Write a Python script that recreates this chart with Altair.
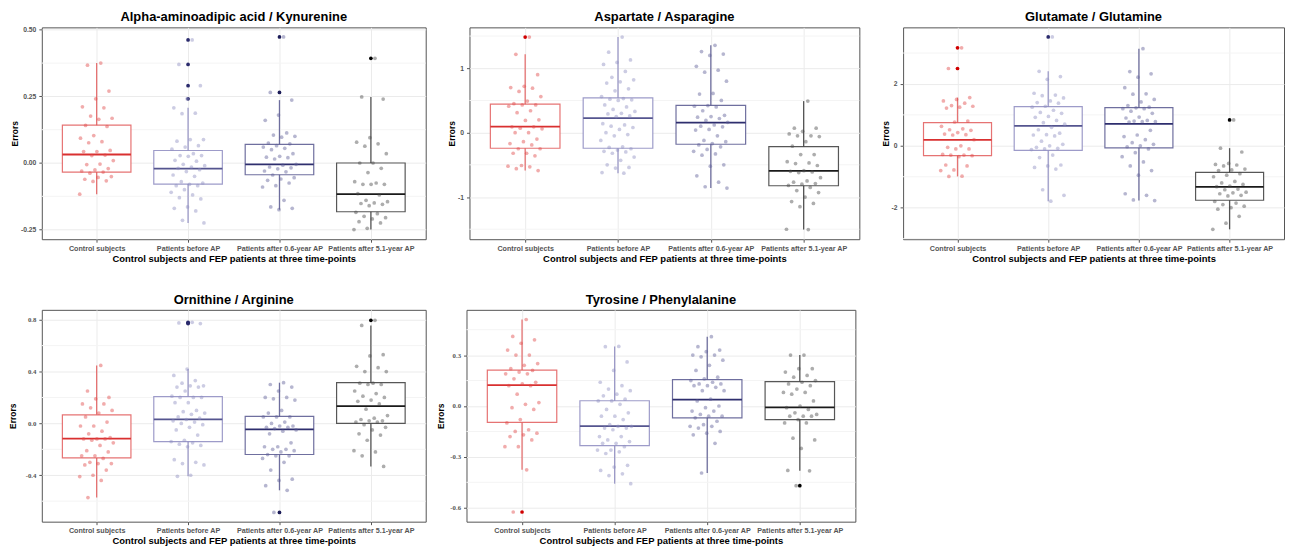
import json
import altair as alt
import pandas as pd

GROUPS = ["Control subjects", "Patients before AP", "Patients after 0.6-year AP", "Patients after 5.1-year AP"]
BOX_COLORS = ["#E25A5A", "#8C8ABF", "#56568E", "#3A3A3A"]
MEDIAN_COLORS = ["#D93030", "#55558F", "#2E2E6E", "#1A1A1A"]
POINT_COLORS = ["#E04848", "#8F8DC2", "#5E5E96", "#4A4A4A"]
OUTLIER_COLORS = ["#D00000", "#2A2A6C", "#1C1C58", "#000000"]
X_TITLE = "Control subjects and FEP patients at three time-points"
Y_TITLE = "Errors"

# ---- Panel 1: Alpha-aminoadipic acid / Kynurenine
P1_TITLE = "Alpha-aminoadipic acid / Kynurenine"
P1_CTRL = [0.375, 0.367, 0.27, 0.241, 0.211, 0.207, 0.176, 0.168, 0.164, 0.141, 0.137, 0.103, 0.093, 0.08, 0.076, 0.047, 0.043, 0.043, 0.03, 0.028, 0.009, -0.004, -0.006, -0.021, -0.026, -0.03, -0.034, -0.038, -0.051, -0.054, -0.061, -0.067, -0.069, -0.117]
P1_PRE = [0.462, 0.37, 0.29, 0.241, 0.207, 0.187, 0.185, 0.088, 0.088, 0.082, 0.065, 0.06, 0.052, 0.035, 0.028, 0.028, 0.025, 0.01, 0.007, -0.005, -0.01, -0.015, -0.02, -0.025, -0.032, -0.045, -0.05, -0.07, -0.075, -0.08, -0.085, -0.085, -0.1, -0.11, -0.12, -0.13, -0.135, -0.165, -0.17, -0.18, -0.215, -0.225]
P1_A06 = [0.473, 0.265, 0.236, 0.18, 0.16, 0.113, 0.105, 0.1, 0.097, 0.075, 0.072, 0.065, 0.06, 0.055, 0.05, 0.035, 0.025, 0.022, 0.02, 0.015, -0.005, -0.008, -0.015, -0.018, -0.022, -0.03, -0.033, -0.045, -0.055, -0.06, -0.065, -0.075, -0.085, -0.09, -0.14, -0.165, -0.17, -0.175]
P1_A51 = [0.393, 0.248, 0.24, 0.095, 0.078, 0.072, 0.063, 0.035, 0.0, 0.0, -0.02, -0.036, -0.07, -0.075, -0.08, -0.08, -0.08, -0.115, -0.12, -0.14, -0.145, -0.15, -0.152, -0.155, -0.16, -0.185, -0.19, -0.2, -0.205, -0.21, -0.22, -0.225, -0.245, -0.25]
P1_Q1 = [-0.034, -0.079, -0.044, -0.183]
P1_MED = [0.032, -0.021, -0.005, -0.117]
P1_Q3 = [0.142, 0.047, 0.070, 0.0]
P1_LO = [-0.117, -0.225, -0.175, -0.25]
P1_HI = [0.375, 0.207, 0.236, 0.248]
P1_DOMAIN = [-0.286, 0.509]
P1_TICKS = [-0.25, 0.0, 0.25, 0.5]

# ---- Panel 2: Aspartate / Asparagine
P2_TITLE = "Aspartate / Asparagine"
P2_CTRL = [1.485, 1.216, 0.9, 0.72, 0.7, 0.69, 0.64, 0.56, 0.49, 0.45, 0.43, 0.43, 0.41, 0.34, 0.31, 0.2, 0.19, 0.09, 0.09, 0.07, 0.06, 0.0, 0.0, -0.1, -0.14, -0.17, -0.19, -0.25, -0.25, -0.32, -0.32, -0.36, -0.51, -0.52, -0.53, -0.56, -0.588]
P2_PRE = [1.485, 1.25, 1.13, 1.09, 1.06, 0.95, 0.86, 0.82, 0.79, 0.77, 0.68, 0.65, 0.56, 0.53, 0.52, 0.51, 0.5, 0.43, 0.4, 0.36, 0.33, 0.3, 0.29, 0.26, 0.25, 0.14, 0.12, 0.1, 0.08, 0.05, 0.0, -0.03, -0.05, -0.12, -0.22, -0.23, -0.25, -0.27, -0.29, -0.3, -0.32, -0.38, -0.43, -0.5, -0.54, -0.55, -0.62, -0.629]
P2_A06 = [1.356, 1.26, 1.22, 1.2, 1.03, 0.97, 0.94, 0.8, 0.61, 0.6, 0.5, 0.42, 0.41, 0.4, 0.34, 0.27, 0.25, 0.24, 0.22, 0.19, 0.16, 0.12, 0.1, 0.09, 0.05, 0.04, -0.05, -0.12, -0.14, -0.17, -0.19, -0.22, -0.26, -0.29, -0.33, -0.35, -0.5, -0.52, -0.67, -0.77, -0.84, -0.861]
P2_A51 = [0.49, 0.07, 0.07, 0.02, -0.02, -0.05, -0.05, -0.06, -0.14, -0.21, -0.34, -0.34, -0.45, -0.47, -0.48, -0.51, -0.59, -0.6, -0.61, -0.62, -0.7, -0.75, -0.77, -0.79, -0.8, -0.82, -0.85, -0.9, -0.93, -1.0, -1.07, -1.1, -1.15, -1.5, -1.505]
P2_Q1 = [-0.242, -0.242, -0.18, -0.825]
P2_MED = [0.093, 0.227, 0.155, -0.593]
P2_Q3 = [0.443, 0.541, 0.423, -0.216]
P2_LO = [-0.588, -0.629, -0.861, -1.505]
P2_HI = [1.216, 1.485, 1.356, 0.49]
P2_DOMAIN = [-1.655, 1.635]
P2_TICKS = [-1, 0, 1]

# ---- Panel 3: Glutamate / Glutamine
P3_TITLE = "Glutamate / Glutamine"
P3_CTRL = [3.17, 2.5, 1.56, 1.5, 1.45, 1.38, 1.3, 1.28, 1.25, 1.22, 0.8, 0.77, 0.63, 0.55, 0.52, 0.5, 0.43, 0.38, 0.36, 0.35, 0.2, 0.0, -0.05, -0.1, -0.1, -0.28, -0.3, -0.3, -0.32, -0.35, -0.62, -0.65, -0.78, -0.8, -0.98, -0.99]
P3_PRE = [3.52, 2.41, 2.24, 2.15, 1.7, 1.64, 1.62, 1.55, 1.45, 1.4, 1.38, 1.28, 1.25, 1.15, 1.08, 1.05, 0.95, 0.92, 0.82, 0.75, 0.7, 0.6, 0.52, 0.41, 0.36, 0.35, 0.32, 0.15, 0.05, 0.0, -0.05, -0.08, -0.1, -0.12, -0.3, -0.38, -0.62, -0.65, -0.7, -0.75, -1.42, -1.6, -1.79]
P3_A06 = [3.14, 2.4, 2.33, 2.22, 1.88, 1.68, 1.67, 1.5, 1.42, 1.3, 1.25, 1.23, 1.2, 1.2, 1.12, 1.05, 0.93, 0.9, 0.82, 0.8, 0.78, 0.78, 0.77, 0.5, 0.35, 0.3, 0.2, 0.1, 0.05, 0.0, -0.03, -0.1, -0.22, -0.35, -0.52, -0.65, -0.8, -0.95, -1.55, -1.6, -1.75, -1.77]
P3_A51 = [0.836, -0.075, -0.2, -0.57, -0.6, -0.62, -0.65, -0.75, -0.78, -0.8, -0.9, -0.95, -1.0, -1.15, -1.2, -1.25, -1.3, -1.32, -1.4, -1.42, -1.5, -1.52, -1.55, -1.6, -1.62, -1.8, -1.85, -1.9, -1.95, -2.0, -2.05, -2.28, -2.5, -2.7]
P3_Q1 = [-0.32, -0.15, -0.064, -1.76]
P3_MED = [0.193, 0.643, 0.708, -1.33]
P3_Q3 = [0.75, 1.265, 1.233, -0.858]
P3_LO = [-0.99, -1.79, -1.77, -2.7]
P3_HI = [1.56, 2.41, 3.14, -0.075]
P3_DOMAIN = [-3.02, 3.83]
P3_TICKS = [-2, 0, 2]

# ---- Panel 4: Ornithine / Arginine
P4_TITLE = "Ornithine / Arginine"
P4_CTRL = [0.447, 0.25, 0.2, 0.19, 0.15, 0.15, 0.12, 0.1, 0.08, 0.05, 0.01, -0.02, -0.02, -0.06, -0.08, -0.11, -0.12, -0.12, -0.12, -0.13, -0.15, -0.17, -0.21, -0.22, -0.25, -0.25, -0.27, -0.3, -0.31, -0.31, -0.32, -0.36, -0.4, -0.41, -0.44, -0.572]
P4_PRE = [0.78, 0.775, 0.77, 0.419, 0.37, 0.33, 0.31, 0.29, 0.29, 0.28, 0.28, 0.25, 0.21, 0.2, 0.2, 0.2, 0.16, 0.16, 0.1, 0.09, 0.08, 0.07, 0.05, 0.04, 0.03, 0.02, 0.01, 0.0, -0.01, -0.03, -0.05, -0.09, -0.13, -0.14, -0.15, -0.16, -0.17, -0.18, -0.28, -0.3, -0.31, -0.32, -0.4, -0.408]
P4_A06 = [0.314, 0.3, 0.28, 0.25, 0.2, 0.2, 0.19, 0.18, 0.1, 0.08, 0.05, 0.05, 0.05, 0.01, 0.0, -0.02, -0.02, -0.03, -0.03, -0.04, -0.05, -0.06, -0.08, -0.15, -0.18, -0.18, -0.2, -0.2, -0.21, -0.22, -0.24, -0.25, -0.25, -0.27, -0.3, -0.36, -0.43, -0.44, -0.48, -0.516, -0.687]
P4_A51 = [0.795, 0.756, 0.53, 0.52, 0.44, 0.43, 0.4, 0.4, 0.31, 0.31, 0.3, 0.3, 0.25, 0.23, 0.21, 0.2, 0.18, 0.17, 0.15, 0.11, 0.06, 0.04, 0.03, 0.02, 0.02, 0.01, 0.01, -0.01, -0.03, -0.05, -0.08, -0.09, -0.13, -0.21, -0.22, -0.25, -0.332]
P4_Q1 = [-0.266, -0.14, -0.24, 0.0]
P4_MED = [-0.117, 0.031, -0.046, 0.133]
P4_Q3 = [0.066, 0.207, 0.054, 0.314]
P4_LO = [-0.572, -0.408, -0.516, -0.332]
P4_HI = [0.447, 0.419, 0.314, 0.756]
P4_DOMAIN = [-0.758, 0.876]
P4_TICKS = [-0.4, 0.0, 0.4, 0.8]

# ---- Panel 5: Tyrosine / Phenylalanine
P5_TITLE = "Tyrosine / Phenylalanine"
P5_CTRL = [0.51, 0.41, 0.39, 0.37, 0.33, 0.3, 0.3, 0.25, 0.24, 0.22, 0.21, 0.2, 0.19, 0.19, 0.16, 0.14, 0.13, 0.12, 0.12, 0.07, 0.02, 0.01, -0.01, -0.02, -0.08, -0.1, -0.14, -0.15, -0.16, -0.17, -0.18, -0.2, -0.24, -0.24, -0.376, -0.625]
P5_PRE = [0.351, 0.35, 0.26, 0.21, 0.14, 0.12, 0.1, 0.09, 0.07, 0.06, 0.04, 0.03, 0.03, 0.01, -0.02, -0.04, -0.06, -0.06, -0.08, -0.11, -0.12, -0.12, -0.13, -0.13, -0.14, -0.18, -0.18, -0.2, -0.21, -0.22, -0.22, -0.24, -0.26, -0.26, -0.27, -0.28, -0.35, -0.36, -0.38, -0.4, -0.41, -0.458]
P5_A06 = [0.409, 0.35, 0.33, 0.32, 0.3, 0.3, 0.29, 0.27, 0.24, 0.21, 0.17, 0.16, 0.15, 0.14, 0.13, 0.13, 0.12, 0.12, 0.11, 0.09, 0.09, 0.04, 0.03, 0.0, -0.01, -0.03, -0.03, -0.05, -0.06, -0.06, -0.07, -0.09, -0.11, -0.12, -0.12, -0.13, -0.15, -0.16, -0.17, -0.22, -0.395]
P5_A51 = [0.3, 0.3, 0.22, 0.22, 0.2, 0.18, 0.17, 0.15, 0.14, 0.13, 0.12, 0.1, 0.08, 0.08, 0.07, 0.03, 0.0, -0.01, -0.02, -0.04, -0.05, -0.06, -0.06, -0.06, -0.08, -0.1, -0.1, -0.19, -0.2, -0.25, -0.38, -0.382, -0.47]
P5_Q1 = [-0.097, -0.234, -0.07, -0.08]
P5_MED = [0.123, -0.119, 0.037, -0.008]
P5_Q3 = [0.212, 0.031, 0.156, 0.144]
P5_LO = [-0.376, -0.458, -0.395, -0.382]
P5_HI = [0.51, 0.351, 0.409, 0.30]
P5_DOMAIN = [-0.682, 0.567]
P5_TICKS = [-0.6, -0.3, 0.0, 0.3]

FONT = "Liberation Sans"


def panel(title, series, q1, med, q3, lo, hi, domain, ticks, fmt, ext, width, height, label_font):
    pts = []
    for i, arr in enumerate(series):
        for v in arr:
            pts.append({"gi": i + 1, "v": v, "out": bool(v > hi[i] + 1e-9 or v < lo[i] - 1e-9)})
    pts_df = pd.DataFrame(pts)
    stats_df = pd.DataFrame({"gi": [1, 2, 3, 4], "q1": q1, "med": med, "q3": q3, "lo": lo, "hi": hi})
    step = ticks[1] - ticks[0]
    minors = [t + step / 2 for t in [ticks[0] - step] + list(ticks)]
    minors = [m for m in minors if domain[0] <= m <= domain[1]]
    minor_df = pd.DataFrame({"m": minors})

    xaxis = alt.Axis(values=[1, 2, 3, 4], labelExpr=json.dumps(GROUPS) + "[datum.value - 1]",
                     grid=True, gridColor="#EBEBEB", gridWidth=1, domain=False, tickSize=3,
                     tickColor="#555555", labelFontSize=7.2, labelFontWeight="bold", labelColor="#555555",
                     labelPadding=2, labelFlush=False, labelOverlap=False, title=X_TITLE,
                     titleFontSize=9.5, titleFontWeight="bold", titleColor="#000000", titlePadding=2,
                     labelFont=FONT, titleFont=FONT)
    yaxis = alt.Axis(values=ticks, labelExpr=f"replace(format(datum.value, '{fmt}'), '\u2212', '-')",
                     grid=True, gridColor="#EBEBEB", gridWidth=1, domain=False, tickSize=3,
                     tickColor="#555555", labelFontSize=6.8, labelFontWeight="bold", labelColor="#555555",
                     labelPadding=3, labelFont=label_font, title=Y_TITLE, titleFontSize=8.5,
                     titleFontWeight="bold", titleColor="#000000", titlePadding=3, titleFont=FONT,
                     minExtent=ext, maxExtent=ext)
    xs = alt.Scale(domain=[0.4, 4.6], nice=False, zero=False)
    ys = alt.Scale(domain=domain, nice=False, zero=False)

    def X(f):
        return alt.X(f, type="quantitative", scale=xs, axis=xaxis)

    def Y(f):
        return alt.Y(f, type="quantitative", scale=ys, axis=yaxis)

    box_c = json.dumps(BOX_COLORS)
    med_c = json.dumps(MEDIAN_COLORS)
    pt_c = json.dumps(POINT_COLORS)
    out_c = json.dumps(OUTLIER_COLORS)

    minor = alt.Chart(minor_df).mark_rule(color="#F4F4F4", strokeWidth=1).encode(y=Y("m"))
    base = alt.Chart(stats_df).transform_calculate(
        xa="datum.gi - 0.375", xb="datum.gi + 0.375",
        bc=f"{box_c}[datum.gi - 1]", mc=f"{med_c}[datum.gi - 1]")
    whisk = base.mark_rule(strokeWidth=1.3, opacity=0.85).encode(
        x=X("gi"), y=Y("lo"), y2="hi", color=alt.Color("bc:N", scale=None))
    box = base.mark_rect(fill="white", strokeWidth=1.2, strokeOpacity=0.85).encode(
        x=X("xa"), x2="xb", y=Y("q1"), y2="q3", stroke=alt.Stroke("bc:N", scale=None))
    median = base.mark_rule(strokeWidth=1.8).encode(
        x=X("xa"), x2="xb", y=Y("med"), color=alt.Color("mc:N", scale=None))
    pbase = alt.Chart(pts_df).transform_calculate(
        pc=f"{pt_c}[datum.gi - 1]", oc=f"{out_c}[datum.gi - 1]")
    outl = pbase.transform_filter("datum.out").mark_circle(size=14, opacity=1).encode(
        x=X("gi"), y=Y("v"), color=alt.Color("oc:N", scale=None))
    jit = pbase.transform_window(idx="row_number()", groupby=["gi"]).transform_calculate(
        xj="datum.gi + ((datum.idx * 0.618034) % 1 - 0.5) * 0.38").mark_circle(size=14, opacity=0.45).encode(
        x=X("xj"), y=Y("v"), color=alt.Color("pc:N", scale=None))

    return alt.layer(minor, whisk, box, median, outl, jit).properties(
        width=width, height=height,
        title=alt.Title(title, fontSize=13, font=FONT, fontWeight="bold", color="#000000",
                        anchor="middle", offset=3))


c1 = panel(P1_TITLE, [P1_CTRL, P1_PRE, P1_A06, P1_A51], P1_Q1, P1_MED, P1_Q3, P1_LO, P1_HI,
           P1_DOMAIN, P1_TICKS, ".2f", 19, 386, 213, FONT)
c2 = panel(P2_TITLE, [P2_CTRL, P2_PRE, P2_A06, P2_A51], P2_Q1, P2_MED, P2_Q3, P2_LO, P2_HI,
           P2_DOMAIN, P2_TICKS, "d", 10, 392, 213, FONT)
c3 = panel(P3_TITLE, [P3_CTRL, P3_PRE, P3_A06, P3_A51], P3_Q1, P3_MED, P3_Q3, P3_LO, P3_HI,
           P3_DOMAIN, P3_TICKS, "d", 10, 383, 213, FONT)
c4 = panel(P4_TITLE, [P4_CTRL, P4_PRE, P4_A06, P4_A51], P4_Q1, P4_MED, P4_Q3, P4_LO, P4_HI,
           P4_DOMAIN, P4_TICKS, ".1f", 21, 386, 213, "Liberation Serif")
c5 = panel(P5_TITLE, [P5_CTRL, P5_PRE, P5_A06, P5_A51], P5_Q1, P5_MED, P5_Q3, P5_LO, P5_HI,
           P5_DOMAIN, P5_TICKS, ".1f", 18, 391, 213, "Liberation Serif")

row1 = alt.hconcat(c1, c2, c3, spacing=44, bounds="flush")
row2 = alt.hconcat(c4, c5, spacing=41, bounds="flush")
chart = alt.vconcat(row1, row2, spacing=29).properties(
    padding={"left": 0, "top": 0, "right": 2, "bottom": 2}
).configure(font=FONT).configure_view(stroke="#555555", strokeWidth=1)

chart.save("out.html", embed_options={"renderer": "svg", "actions": False})
